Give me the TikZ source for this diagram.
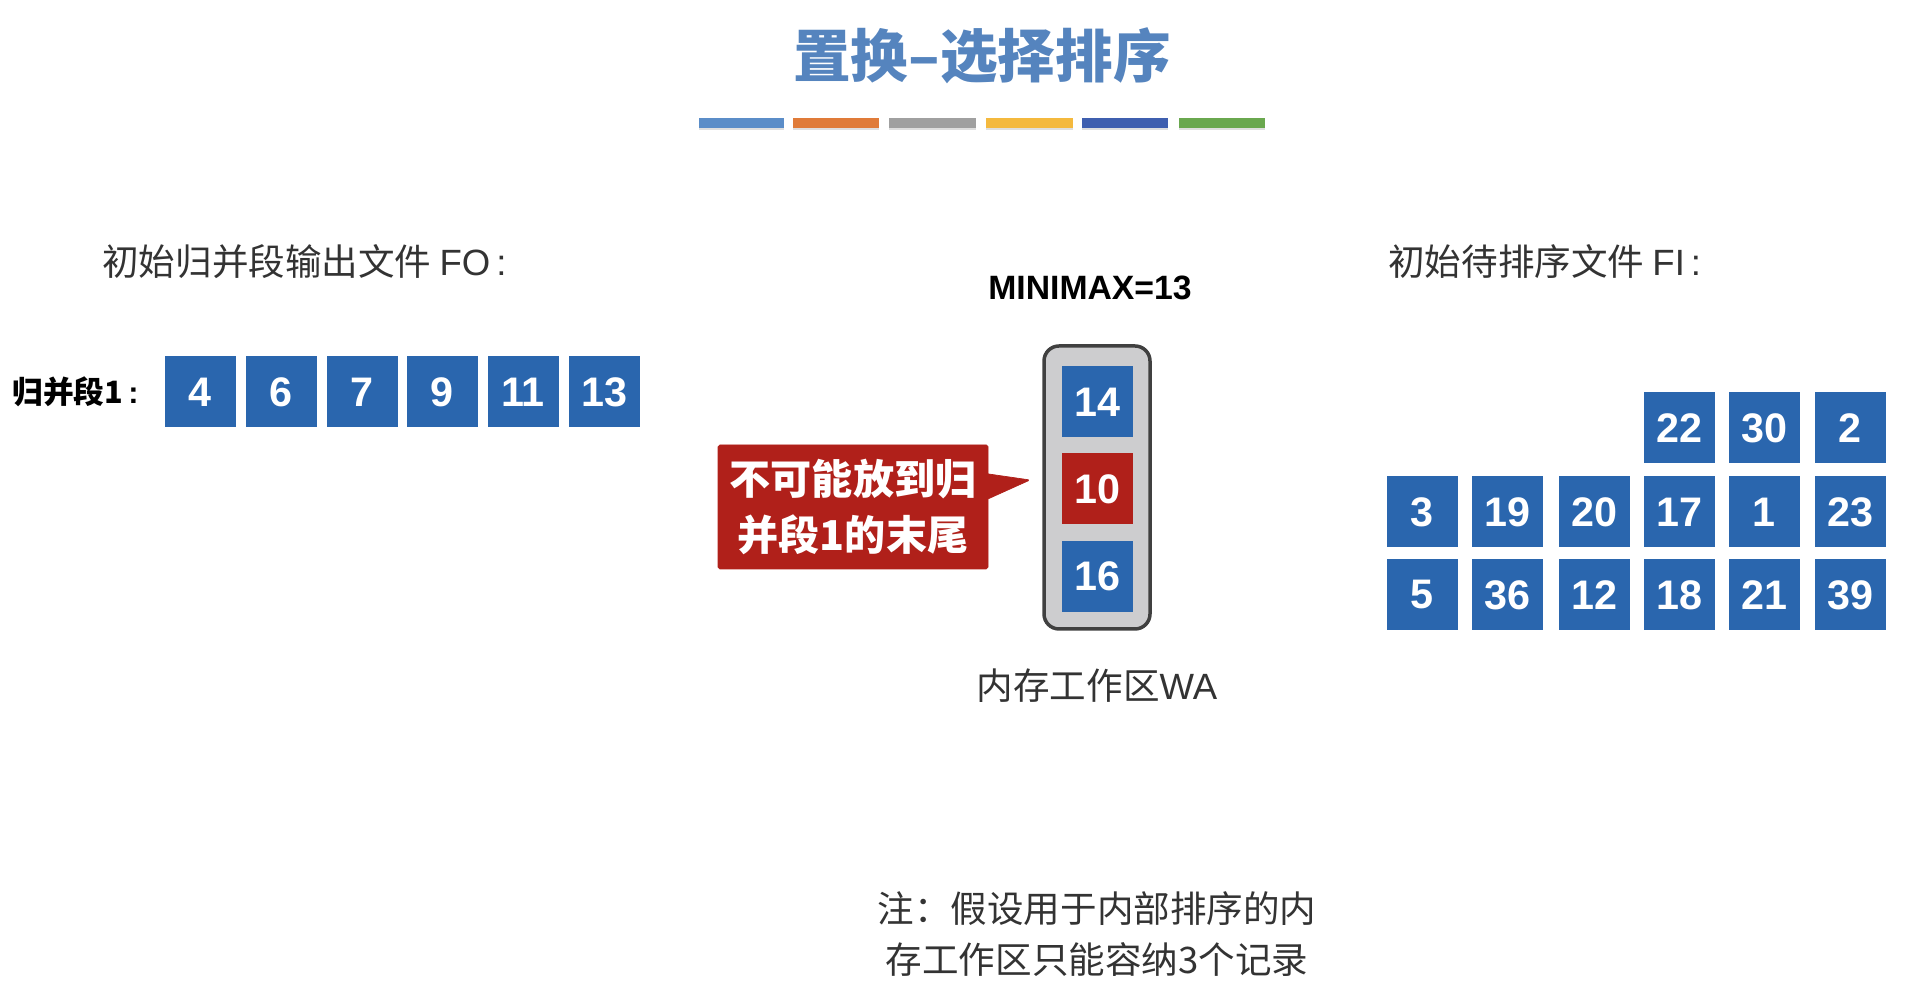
\documentclass[tikz,border=0pt]{standalone}
\usepackage{fontspec}
\setmainfont{Liberation Sans}
\newfontfamily\cjk{Noto Sans CJK SC}
\usetikzlibrary{shapes.callouts,shadows}
\definecolor{boxblue}{HTML}{2A66AE}
\definecolor{boxred}{HTML}{B0201A}
\definecolor{titleblue}{HTML}{5584BE}
\definecolor{slotgrey}{HTML}{CDCDCF}
\definecolor{inkgrey}{HTML}{333333}
\tikzset{
  numbox/.style={fill=boxblue, text=white, minimum size=1.42cm, inner sep=0pt, font=\fontsize{23.5}{26}\selectfont\bfseries},
  colorbar/.style={minimum height=0.2cm, inner sep=0pt, drop shadow={opacity=0.25, shadow xshift=0cm, shadow yshift=-0.05cm}},
  plainlabel/.style={text=inkgrey, inner sep=0pt, font=\fontsize{20.8}{29}\selectfont\cjk}
}
\begin{document}
\begin{tikzpicture}
\useasboundingbox (0,0) rectangle (38.24,19.98);

% title and the coloured bars
\node[text=titleblue, font=\fontsize{32.8}{36}\selectfont\cjk\bfseries] (title) at (19.64,18.86) {置换–选择排序};
\node[colorbar, fill={rgb,255:red,91;green,141;blue,200}, minimum width=1.7cm] (bar1) at (14.83,17.52) {};
\node[colorbar, fill={rgb,255:red,224;green,123;blue,57}, minimum width=1.72cm] (bar2) at (16.72,17.52) {};
\node[colorbar, fill={rgb,255:red,160;green,160;blue,160}, minimum width=1.74cm] (bar3) at (18.65,17.52) {};
\node[colorbar, fill={rgb,255:red,244;green,185;blue,62}, minimum width=1.74cm] (bar4) at (20.59,17.52) {};
\node[colorbar, fill={rgb,255:red,63;green,95;blue,175}, minimum width=1.72cm] (bar5) at (22.5,17.52) {};
\node[colorbar, fill={rgb,255:red,106;green,168;blue,79}, minimum width=1.72cm] (bar6) at (24.44,17.52) {};

% output file
\node[plainlabel, anchor=west] (outlabel) at (2.04,14.74) {初始归并段输出文件 {\rmfamily FO\,:}};
\node[anchor=west, inner sep=0pt, font=\fontsize{17.5}{20}\selectfont\cjk\bfseries] (runlabel) at (0.24,12.14) {归并段1{\rmfamily\,:}};
\node[numbox] (out1) at (4.0,12.14) {4};
\node[numbox] (out2) at (5.62,12.14) {6};
\node[numbox] (out3) at (7.24,12.14) {7};
\node[numbox] (out4) at (8.84,12.14) {9};
\node[numbox] (out5) at (10.46,12.14) {11};
\node[numbox] (out6) at (12.08,12.14) {13};

% work area
\node[font=\fontsize{19.2}{22}\selectfont\bfseries] (minimax) at (21.8,14.22) {MINIMAX=13};
\node[draw=black!75, line width=0.07cm, fill=slotgrey, rounded corners=0.3cm, minimum width=2.12cm, minimum height=5.66cm] (wa) at (21.94,10.23) {};
\node[numbox] (wa1) at (21.94,11.94) {14};
\node[numbox, fill=boxred] (wa2) at (21.94,10.2) {10};
\node[numbox] (wa3) at (21.94,8.45) {16};
\node[plainlabel] (walabel) at (21.94,6.26) {内存工作区{\rmfamily WA}};

% callout
\coordinate (tip) at (20.6,10.38);
\node[rectangle callout, callout absolute pointer={(tip)}, callout pointer width=0.5cm, fill=boxred, draw=boxred, text=white, rounded corners=1pt, minimum width=5.4cm, minimum height=2.48cm, align=center, inner sep=0pt, font=\fontsize{23.4}{32}\selectfont\cjk\bfseries] (note) at (17.06,9.84) {不可能放到归\\并段1的末尾};

% input file
\node[plainlabel, anchor=west] (inlabel) at (27.76,14.74) {初始待排序文件 {\rmfamily FI\,:}};
\node[numbox] (in1) at (33.58,11.42) {22};
\node[numbox] (in2) at (35.28,11.42) {30};
\node[numbox] (in3) at (37.0,11.42) {2};
\node[numbox] (in4) at (28.44,9.74) {3};
\node[numbox] (in5) at (30.14,9.74) {19};
\node[numbox] (in6) at (31.88,9.74) {20};
\node[numbox] (in7) at (33.58,9.74) {17};
\node[numbox] (in8) at (35.28,9.74) {1};
\node[numbox] (in9) at (37.0,9.74) {23};
\node[numbox] (in10) at (28.44,8.08) {5};
\node[numbox] (in11) at (30.14,8.08) {36};
\node[numbox] (in12) at (31.88,8.08) {12};
\node[numbox] (in13) at (33.58,8.08) {18};
\node[numbox] (in14) at (35.28,8.08) {21};
\node[numbox] (in15) at (37.0,8.08) {39};

% remark below
\node[plainlabel, align=center] (remark) at (21.94,1.3) {注：假设用于内部排序的内\\存工作区只能容纳3个记录};
\end{tikzpicture}
\end{document}
